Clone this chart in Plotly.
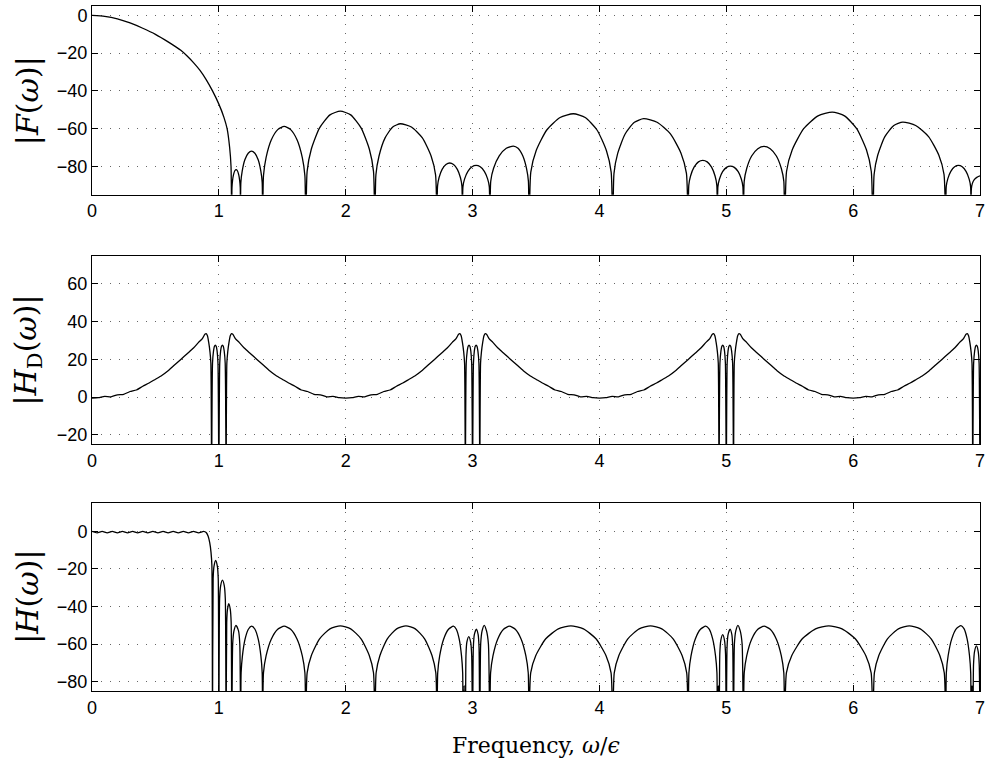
"""
Three stacked magnitude responses (dB) versus normalised frequency,
MATLAB-style boxes with dotted grids.
"""
import plotly.graph_objects as go

# ---- |F(w)| : main lobe then side lobes (nulls drawn below the axis floor)
f_freq = [
    0, 0.1, 0.2, 0.3, 0.4, 0.5, 0.6, 0.7, 0.75, 0.8, 0.85, 0.9, 0.95, 1.0,
    1.04, 1.065, 1.085, 1.096, 1.102,
    1.1034, 1.1074, 1.1156, 1.1258, 1.136, 1.1462, 1.1564, 1.1646, 1.1687, 1.17,
    1.1735, 1.184, 1.205, 1.2313, 1.2575, 1.2838, 1.31, 1.331, 1.3415, 1.345,
    1.3518, 1.3722, 1.413, 1.464, 1.515, 1.566, 1.617, 1.6578, 1.6782, 1.685,
    1.6959, 1.7286, 1.794, 1.8758, 1.9575, 2.0393, 2.121, 2.1864, 2.2191, 2.23,
    2.238, 2.2621, 2.3104, 2.3706, 2.4309, 2.5176, 2.6044, 2.6737, 2.7084, 2.72,
    2.724, 2.736, 2.76, 2.79, 2.82, 2.85, 2.88, 2.904, 2.916, 2.92,
    2.9243, 2.9373, 2.9632, 2.9956, 3.028, 3.0604, 3.0928, 3.1187, 3.1317, 3.136,
    3.1434, 3.1657, 3.2102, 3.2658, 3.3214, 3.3585, 3.3956, 3.4252, 3.4401, 3.445,
    3.459, 3.501, 3.5849, 3.6899, 3.7948, 3.8879, 3.981, 4.0554, 4.0926, 4.105,
    4.1148, 4.144, 4.2026, 4.2758, 4.349, 4.4543, 4.5596, 4.6438, 4.686, 4.70,
    4.7046, 4.7184, 4.746, 4.7805, 4.815, 4.8495, 4.884, 4.9116, 4.9254, 4.93,
    4.9341, 4.9464, 4.971, 5.0018, 5.0325, 5.0633, 5.094, 5.1186, 5.1309, 5.135,
    5.1415, 5.161, 5.2, 5.2488, 5.2975, 5.3463, 5.395, 5.434, 5.4535, 5.46,
    5.475, 5.5201, 5.6103, 5.7231, 5.8358, 5.9319, 6.0279, 6.1048, 6.1432, 6.156,
    6.1654, 6.1937, 6.2501, 6.3208, 6.3913, 6.4929, 6.5945, 6.6758, 6.7165, 6.73,
    6.734, 6.746, 6.77, 6.8, 6.83, 6.86, 6.89, 6.914, 6.926, 6.93,
    6.932, 6.94, 6.955, 6.975, 7.0,
]
f_db = [
    0, -0.5, -1.8, -4, -6.8, -10, -14, -18.5, -21.5, -25, -29, -34, -40, -47,
    -54, -60, -70, -80, -120,
    -91.3, -87.8, -84.4, -82.3, -81.7, -82.3, -84.4, -87.8, -91.3, -120,
    -88.5, -82.5, -76.5, -73.0, -71.9, -73.0, -76.5, -82.5, -88.5, -120,
    -84.9, -75.3, -66.0, -60.5, -58.8, -60.5, -66.0, -75.3, -84.9, -120,
    -82.6, -70.9, -59.6, -52.7, -50.7, -52.7, -59.6, -70.9, -82.6, -120,
    -84.5, -74.6, -64.9, -59.1, -57.4, -59.1, -64.9, -74.6, -84.5, -120,
    -90.3, -85.9, -81.6, -79.0, -78.2, -79.0, -81.6, -85.9, -90.3, -120,
    -90.7, -86.6, -82.6, -80.2, -79.5, -80.2, -82.6, -86.6, -90.7, -120,
    -87.8, -81.0, -74.4, -70.4, -69.2, -70.4, -74.4, -81.0, -87.8, -120,
    -83.0, -71.7, -60.7, -54.1, -52.1, -54.1, -60.7, -71.7, -83.0, -120,
    -83.7, -73.1, -62.8, -56.6, -54.7, -56.6, -62.8, -73.1, -83.7, -120,
    -89.9, -85.1, -80.4, -77.6, -76.8, -77.6, -80.4, -85.1, -89.9, -120,
    -90.7, -86.7, -82.8, -80.5, -79.8, -80.5, -82.8, -86.7, -90.7, -120,
    -87.8, -81.1, -74.5, -70.6, -69.4, -70.6, -74.5, -81.1, -87.8, -120,
    -82.7, -71.2, -60.0, -53.2, -51.2, -53.2, -60.0, -71.2, -82.7, -120,
    -84.2, -74.1, -64.2, -58.3, -56.5, -58.3, -64.2, -74.1, -84.2, -120,
    -90.7, -86.6, -82.6, -80.2, -79.5, -80.2, -82.6, -86.6, -90.7, -120,
    -92, -89, -87, -85.8, -85,
]

# ---- |H_D(w)| : one period (offset from its start), repeated every 2 units
hd_offset = [
    0, 0.05, 0.1, 0.15, 0.2, 0.25, 0.3, 0.35, 0.4, 0.45,
    0.5, 0.55, 0.6, 0.65, 0.7, 0.75, 0.8, 0.84, 0.87, 0.89,
    0.9, 0.91, 0.92, 0.93, 0.937, 0.943, 0.95, 0.958, 0.965, 0.972,
    0.979, 0.986, 0.993, 1.0, 1.007, 1.014, 1.021, 1.028, 1.035, 1.042,
    1.05, 1.057, 1.063, 1.07, 1.08, 1.09, 1.1, 1.11, 1.13, 1.16,
    1.2, 1.25, 1.3, 1.35, 1.4, 1.45, 1.5, 1.55, 1.6, 1.65,
    1.7, 1.75, 1.8, 1.85, 1.9, 1.95,
]
hd_db = [
    -0.5, -0.3, 0.4, 0.2, 1.2, 1.5, 3, 3.8, 5.8, 7.5,
    9.5, 11.5, 14, 17, 20, 23, 26, 29, 31, 33.3,
    33.6, 32.5, 29, 24, 18, -40, 18, 24.5, 27, 27.6,
    27, 24.5, 18, -40, 18, 24.5, 27, 27.6, 27, 24.5,
    18, -40, 18, 24, 29, 32.5, 33.6, 33.3, 31, 29,
    26, 23, 20, 17, 14, 11.5, 9.5, 7.5, 5.8, 3.8,
    3, 1.5, 1.2, 0.2, 0.4, -0.3,
]
hd_period_start = [0, 2, 4, 6]

# ---- |H(w)| : rippled passband, transition lobes, stopband lobes
h_freq = [
    0, 0.04, 0.08, 0.12, 0.16, 0.2, 0.24, 0.28, 0.32, 0.36, 0.4, 0.44,
    0.48, 0.52, 0.56, 0.6, 0.64, 0.68, 0.72, 0.76, 0.8, 0.84, 0.88,
    0.9, 0.915, 0.928, 0.938, 0.945, 0.95,
    0.955, 0.962, 0.975, 0.988, 0.995, 1.0,
    1.006, 1.014, 1.028, 1.043, 1.051, 1.057,
    1.062, 1.068, 1.078, 1.09, 1.097, 1.102,
    1.109, 1.119, 1.135, 1.155, 1.165, 1.172,
    1.1755, 1.1858, 1.2066, 1.2326, 1.2585, 1.2845, 1.3104, 1.3312, 1.3415, 1.345,
    1.3518, 1.3722, 1.413, 1.464, 1.515, 1.566, 1.617, 1.6578, 1.6782, 1.685,
    1.6959, 1.7286, 1.794, 1.8758, 1.9575, 2.0393, 2.121, 2.1864, 2.2191, 2.23,
    2.2398, 2.2692, 2.328, 2.4015, 2.475, 2.5485, 2.622, 2.6808, 2.7102, 2.72,
    2.7252, 2.7407, 2.7717, 2.8104, 2.8492, 2.8719, 2.8947, 2.9129, 2.922, 2.925,
    2.934, 2.943,
    2.948, 2.955, 2.97, 2.985, 2.993, 3.0,
    3.006, 3.014, 3.03, 3.044, 3.051, 3.057,
    3.064, 3.075, 3.092, 3.11, 3.125, 3.136,
    3.1422, 3.1607, 3.1978, 3.2442, 3.2905, 3.3369, 3.3832, 3.4203, 3.4388, 3.445,
    3.4582, 3.4978, 3.577, 3.676, 3.775, 3.874, 3.973, 4.0522, 4.0918, 4.105,
    4.1169, 4.1526, 4.224, 4.3133, 4.4025, 4.4918, 4.581, 4.6524, 4.6881, 4.70,
    4.7055, 4.7221, 4.7552, 4.7966, 4.838, 4.8656, 4.8932, 4.9153, 4.9263, 4.93,
    4.937, 4.944,
    4.949, 4.957, 4.972, 4.986, 4.994, 5.0,
    5.006, 5.014, 5.03, 5.044, 5.051, 5.057,
    5.064, 5.075, 5.092, 5.11, 5.125, 5.135,
    5.1415, 5.161, 5.2, 5.2488, 5.2975, 5.3463, 5.395, 5.434, 5.4535, 5.46,
    5.4739, 5.5157, 5.5992, 5.7036, 5.808, 5.9124, 6.0168, 6.1003, 6.1421, 6.156,
    6.1675, 6.2019, 6.2708, 6.3569, 6.443, 6.5291, 6.6152, 6.6841, 6.7185, 6.73,
    6.7348, 6.7492, 6.778, 6.814, 6.85, 6.874, 6.898, 6.9172, 6.9268, 6.93,
    6.937, 6.944,
    6.949, 6.957, 6.972, 6.986, 6.994, 7.0,
]
h_db = [
    0, -0.8, 0, -0.8, 0, -0.8, 0, -0.8, 0, -0.8, 0, -0.8,
    0, -0.8, 0, -0.8, 0, -0.8, 0, -0.8, 0, -0.8, 0,
    -0.6, -2.5, -6, -11, -18, -110,
    -25, -18.5, -15.5, -18.5, -25, -110,
    -36, -29, -26, -29, -36, -110,
    -48.5, -41.5, -38.5, -41.5, -48.5, -110,
    -60, -53, -50, -53, -60, -110,
    -75.3, -66.3, -57.4, -52.1, -50.5, -52.1, -57.4, -66.3, -75.3, -110,
    -75.3, -66.3, -57.4, -52.1, -50.5, -52.1, -57.4, -66.3, -75.3, -110,
    -75.3, -66.2, -57.2, -51.9, -50.3, -51.9, -57.2, -66.2, -75.3, -110,
    -75.3, -66.2, -57.2, -51.9, -50.3, -51.9, -57.2, -66.2, -75.3, -110,
    -75.3, -66.3, -57.4, -52.1, -50.5, -52.1, -57.4, -66.3, -75.3, -110,
    -82, -110,
    -66, -59, -56, -59, -66, -110,
    -62, -55, -52, -55, -62, -110,
    -60, -53, -50, -53, -60, -110,
    -75.3, -66.3, -57.4, -52.1, -50.5, -52.1, -57.4, -66.3, -75.3, -110,
    -75.3, -66.2, -57.2, -51.9, -50.3, -51.9, -57.2, -66.2, -75.3, -110,
    -75.3, -66.2, -57.2, -51.9, -50.3, -51.9, -57.2, -66.2, -75.3, -110,
    -75.3, -66.3, -57.4, -52.1, -50.5, -52.1, -57.4, -66.3, -75.3, -110,
    -82, -110,
    -65, -58, -55, -58, -65, -110,
    -62, -55, -52, -55, -62, -110,
    -60, -53, -50, -53, -60, -110,
    -75.3, -66.3, -57.4, -52.1, -50.5, -52.1, -57.4, -66.3, -75.3, -110,
    -75.3, -66.2, -57.2, -51.9, -50.3, -51.9, -57.2, -66.2, -75.3, -110,
    -75.3, -66.2, -57.2, -51.9, -50.3, -51.9, -57.2, -66.2, -75.3, -110,
    -75.2, -66.1, -57.1, -51.8, -50.2, -51.8, -57.1, -66.1, -75.2, -110,
    -82, -110,
    -71, -64, -61, -64, -71, -110,
]

x_ticks = [0, 1, 2, 3, 4, 5, 6, 7]
f_ticks = [0, -20, -40, -60, -80]
hd_ticks = [-20, 0, 20, 40, 60]
h_ticks = [0, -20, -40, -60, -80]

# build the periodic H_D trace
hd_freq, hd_vals = [], []
for start in hd_period_start:
    for off, v in zip(hd_offset, hd_db):
        hd_freq.append(start + off)
        hd_vals.append(v)

line_style = dict(color="black", width=1.3, shape="spline", smoothing=0.6)

fig = go.Figure()
fig.add_trace(go.Scatter(x=f_freq, y=f_db, mode="lines", line=line_style,
                         xaxis="x", yaxis="y", showlegend=False))
fig.add_trace(go.Scatter(x=hd_freq, y=hd_vals, mode="lines", line=line_style,
                         xaxis="x2", yaxis="y2", showlegend=False))
fig.add_trace(go.Scatter(x=h_freq, y=h_db, mode="lines", line=line_style,
                         xaxis="x3", yaxis="y3", showlegend=False))

tick_font = dict(family="Liberation Sans, Arial, sans-serif", size=18, color="black")
common = dict(
    showline=True, linecolor="black", linewidth=1, mirror="ticks",
    ticks="inside", ticklen=6, tickcolor="black", tickwidth=1,
    showgrid=True, gridcolor="#666666", gridwidth=1, griddash="1px,8px",
    zeroline=False, tickfont=tick_font, ticklabeloverflow="allow",
)


def xaxis(anchor):
    return dict(common, range=[0, 7.0001], tickvals=x_ticks, anchor=anchor,
                domain=[0, 1], ticklabelstandoff=0)


def yaxis(anchor, dom, rng, ticks):
    return dict(common, range=rng, tickvals=ticks, anchor=anchor, domain=dom)


fig.update_layout(
    width=990, height=776,
    margin=dict(l=92, r=8, t=5, b=85),
    paper_bgcolor="white", plot_bgcolor="white",
    hovermode=False,
    xaxis=xaxis("y"),
    xaxis2=xaxis("y2"),
    xaxis3=xaxis("y3"),
    yaxis=yaxis("x", [0.7245, 1.0], [-95, 5], f_ticks),
    yaxis2=yaxis("x2", [0.3601, 0.6356], [-25, 75], hd_ticks),
    yaxis3=yaxis("x3", [0.0, 0.2741], [-85, 15], h_ticks),
)

serif = dict(family="DejaVu Serif, Liberation Serif, serif", size=30, color="black")
labels = [
    ("|<i>F</i>(<i>ω</i>)|", 0.862),
    ("|<i>H</i><sub>D</sub>(<i>ω</i>)|", 0.498),
    ("|<i>H</i>(<i>ω</i>)|", 0.137),
]
for text, ypos in labels:
    fig.add_annotation(text=text, xref="paper", yref="paper", x=-0.0725, y=ypos,
                       xanchor="center", yanchor="middle", textangle=-90,
                       showarrow=False, font=serif)

fig.add_annotation(text="Frequency, <i>ω</i>/<i>ϵ</i>", xref="paper", yref="paper",
                   x=0.5, y=-0.079, xanchor="center", yanchor="middle",
                   showarrow=False, font=dict(serif, size=22))

# the page's default 8px body margin would shift the figure; remove it
fig.write_html("out.html", config={"displayModeBar": False},
               post_script="document.body.style.margin='0';")
